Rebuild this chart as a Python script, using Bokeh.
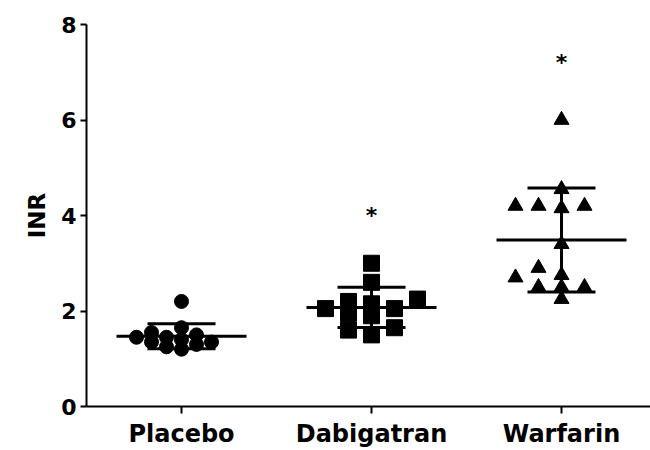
import numpy as np
from bokeh.plotting import figure
from bokeh.models import Range1d, FixedTicker, ColumnDataSource
from bokeh.core.properties import value
from bokeh.embed import file_html
from bokeh.resources import INLINE

# ---- data ----
groups = ["Placebo", "Dabigatran", "Warfarin"]
placebo = [2.2, 1.65, 1.55, 1.5, 1.45, 1.45, 1.4, 1.35, 1.35, 1.3, 1.25, 1.2]
dabigatran = [3.0, 2.6, 2.25, 2.2, 2.15, 2.05, 2.05, 1.95, 1.9, 1.65, 1.6, 1.5]
warfarin = [6.0, 4.55, 4.2, 4.2, 4.2, 4.15, 3.4, 2.9, 2.75, 2.7, 2.5, 2.5, 2.5, 2.25]
star_groups = ["Dabigatran", "Warfarin"]
star_y = [4.1, 7.3]
y_ticks = [0, 2, 4, 6, 8]
y_label = "INR"

# ---- layout ----
W, H = 650, 450
left, right, top, bottom = 86, 0, 24, 43
x0, x1 = -0.5, -0.5 + (W - left - right) / 190.0
y0, y1 = 0, 8
px_x = (W - left - right) / (x1 - x0)
px_y = (H - top - bottom) / (y1 - y0)

FONT = value("DejaVu Sans")

p = figure(width=W, height=H, output_backend="svg", toolbar_location=None,
           x_range=Range1d(x0, x1), y_range=Range1d(y0, y1),
           min_border_left=left, min_border_right=right,
           min_border_top=top, min_border_bottom=bottom)
p.outline_line_color = None
p.grid.visible = False
p.background_fill_color = "white"
p.border_fill_color = "white"


def swarm(vals, center, slot_px, sep_px):
    order = np.argsort(vals, kind="stable")
    placed = {}
    xs = [0.0] * len(vals)
    cands = [0]
    for k in range(1, 12):
        cands += [-k, k]
    for i in order:
        v = vals[i]
        for s in cands:
            if all(abs(v - u) * px_y >= sep_px for u in placed.get(s, [])):
                break
        placed.setdefault(s, []).append(v)
        xs[i] = center + s * slot_px / px_x
    return xs


series = [placebo, dabigatran, warfarin]
markers = ["circle", "square", "triangle"]
sizes = [14, 16, 15]
slots = [15, 23, 23]
seps = [8, 10, 10]

for gi, (vals, mk, sz, sl, sp) in enumerate(zip(series, markers, sizes, slots, seps)):
    xs = swarm(vals, gi, sl, sp)
    src = ColumnDataSource(dict(x=xs, y=vals))
    p.scatter("x", "y", source=src, marker=mk, size=sz,
              fill_color="black", line_color="black")

# mean and SD bars computed from the data
means = [float(np.mean(v)) for v in series]
sds = [float(np.std(v, ddof=1)) for v in series]
cx = list(range(len(groups)))
mean_half = 65 / px_x
cap_half = 34 / px_x
p.segment(x0=[c - mean_half for c in cx], x1=[c + mean_half for c in cx],
          y0=means, y1=means, line_color="black", line_width=3)
p.segment(x0=cx, x1=cx, y0=[m - s for m, s in zip(means, sds)],
          y1=[m + s for m, s in zip(means, sds)], line_color="black", line_width=3)
for sign in (1, -1):
    ys = [m + sign * s for m, s in zip(means, sds)]
    p.segment(x0=[c - cap_half for c in cx], x1=[c + cap_half for c in cx],
              y0=ys, y1=ys, line_color="black", line_width=3)

# significance stars
sx = [groups.index(g) for g in star_groups]
p.text(x=sx, y=star_y, text=["*"] * len(sx), text_font=FONT,
       text_font_style="bold", text_font_size="22px", text_align="center",
       text_baseline="alphabetic", y_offset=5, text_color="black")

# axes
p.xaxis.ticker = FixedTicker(ticks=cx)
p.xaxis.major_label_overrides = {i: g for i, g in enumerate(groups)}
p.xaxis.minor_tick_line_color = None
p.xaxis.major_tick_in = 0
p.xaxis.major_tick_out = 7
p.xaxis.major_label_standoff = 6
p.xaxis.major_label_text_font = "DejaVu Sans"
p.xaxis.major_label_text_font_style = "bold"
p.xaxis.major_label_text_font_size = "24px"

p.yaxis.ticker = FixedTicker(ticks=y_ticks)
p.yaxis.minor_tick_line_color = None
p.yaxis.major_tick_in = 0
p.yaxis.major_tick_out = 6
p.yaxis.major_label_standoff = 4
p.yaxis.major_label_text_font = "DejaVu Sans"
p.yaxis.major_label_text_font_style = "bold"
p.yaxis.major_label_text_font_size = "22px"
p.yaxis.axis_label = y_label
p.yaxis.axis_label_text_font = "DejaVu Sans"
p.yaxis.axis_label_text_font_style = "bold"
p.yaxis.axis_label_text_font_size = "23px"
p.yaxis.axis_label_standoff = 8

for ax in (p.xaxis, p.yaxis):
    ax.axis_line_width = 2
    ax.major_tick_line_width = 2
    ax.axis_line_color = "black"
    ax.major_tick_line_color = "black"
    ax.major_label_text_color = "black"
p.yaxis.axis_label_text_color = "black"

open("out.html", "w").write(file_html(p, INLINE))
